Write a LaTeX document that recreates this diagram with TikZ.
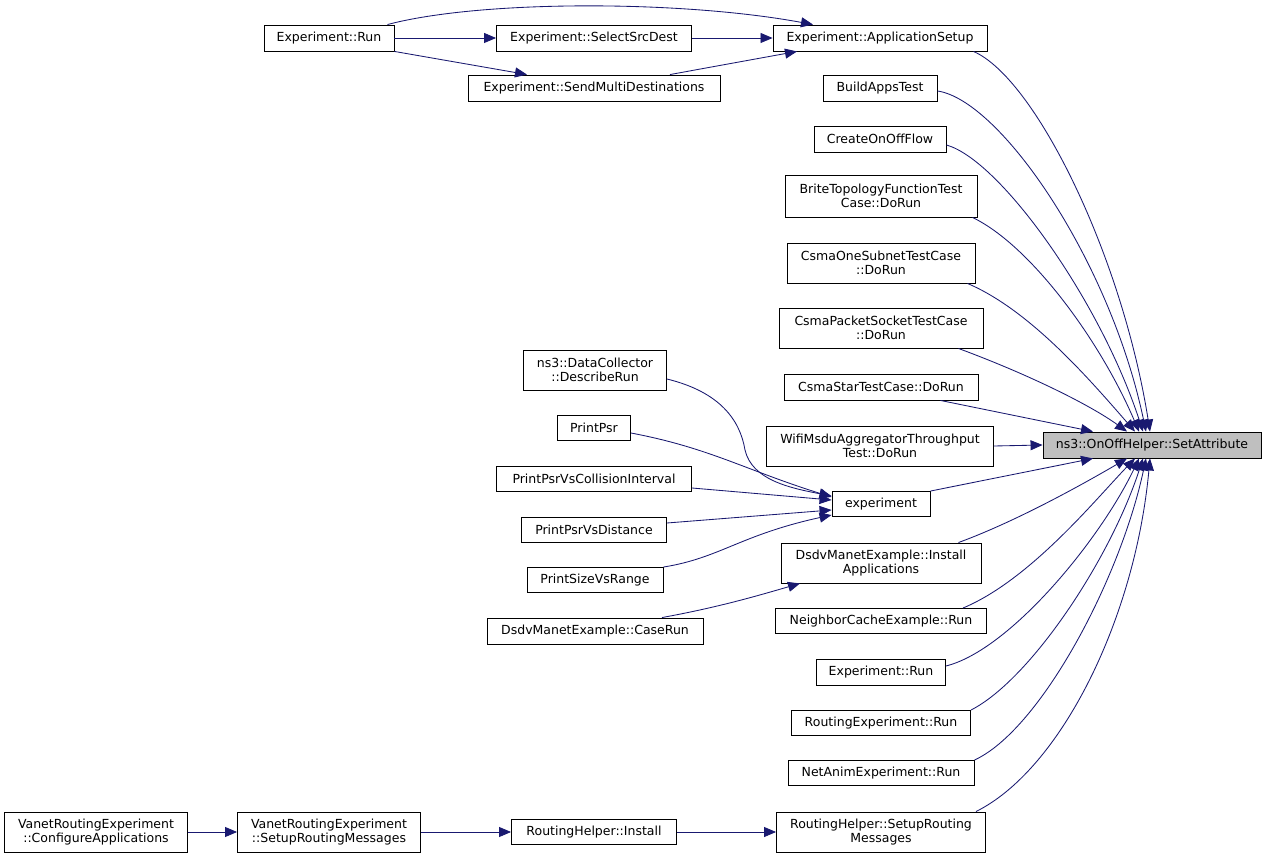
\documentclass[tikz,border=0pt]{standalone}
\usepackage{fontspec}
\setmainfont{DejaVu Sans}
\usetikzlibrary{arrows.meta}
\definecolor{edgeblue}{RGB}{25,25,112}

\begin{document}
\begin{tikzpicture}[
      fnbox/.style={draw=black, fill=white, line width=0.9pt, inner sep=0pt, align=center,
        font=\fontsize{12.5}{14.5}\selectfont},
      call/.style={-{Triangle[length=12pt, width=10pt]}, edgeblue, line width=0.85pt},
      x=1pt, y=-1pt
    ]
    \useasboundingbox (0,0) rectangle (1267,858);
    \node[fnbox, fill=black!25, minimum width=218, minimum height=26] (sa) at (1152,445) {ns3::OnOffHelper::SetAttribute};

    \node[fnbox, minimum width=130, minimum height=26] (runa) at (329,38) {Experiment::Run};
    \node[fnbox, minimum width=195, minimum height=26] (ssd) at (594,38) {Experiment::SelectSrcDest};
    \node[fnbox, minimum width=252, minimum height=26] (smd) at (594,88) {Experiment::SendMultiDestinations};
    \node[fnbox, minimum width=214, minimum height=26] (as) at (880,38) {Experiment::ApplicationSetup};
    \node[fnbox, minimum width=114, minimum height=26] (bat) at (880,88) {BuildAppsTest};
    \node[fnbox, minimum width=132, minimum height=26] (coof) at (880,139) {CreateOnOffFlow};
    \node[fnbox, minimum width=192, minimum height=42] (brite) at (881,196) {BriteTopologyFunctionTest\\Case::DoRun};
    \node[fnbox, minimum width=188, minimum height=40] (cos) at (881,263) {CsmaOneSubnetTestCase\\::DoRun};
    \node[fnbox, minimum width=204, minimum height=40] (cps) at (881,328) {CsmaPacketSocketTestCase\\::DoRun};
    \node[fnbox, minimum width=194, minimum height=26] (cst) at (881,387) {CsmaStarTestCase::DoRun};
    \node[fnbox, minimum width=227, minimum height=40] (wifi) at (880,446) {WifiMsduAggregatorThroughput\\Test::DoRun};
    \node[fnbox, minimum width=98, minimum height=25] (exp) at (881,504) {experiment};
    \node[fnbox, minimum width=200, minimum height=40] (di) at (881,563) {DsdvManetExample::Install\\Applications};
    \node[fnbox, minimum width=211, minimum height=25] (nce) at (881,621) {NeighborCacheExample::Run};
    \node[fnbox, minimum width=129, minimum height=26] (runb) at (881,672) {Experiment::Run};
    \node[fnbox, minimum width=179, minimum height=25] (rer) at (881,723) {RoutingExperiment::Run};
    \node[fnbox, minimum width=186, minimum height=25] (nae) at (881,773) {NetAnimExperiment::Run};
    \node[fnbox, minimum width=209, minimum height=40] (rsr) at (881,832) {RoutingHelper::SetupRouting\\Messages};

    \node[fnbox, minimum width=143, minimum height=40] (dc) at (595,370) {ns3::DataCollector\\::DescribeRun};
    \node[fnbox, minimum width=73, minimum height=25] (psr) at (594,428) {PrintPsr};
    \node[fnbox, minimum width=195, minimum height=25] (pci) at (594,479) {PrintPsrVsCollisionInterval};
    \node[fnbox, minimum width=145, minimum height=25] (pvd) at (594,530) {PrintPsrVsDistance};
    \node[fnbox, minimum width=136, minimum height=25] (psv) at (595,580) {PrintSizeVsRange};
    \node[fnbox, minimum width=216, minimum height=26] (cr) at (595,631) {DsdvManetExample::CaseRun};

    \node[fnbox, minimum width=165, minimum height=25] (rhi) at (594,832) {RoutingHelper::Install};
    \node[fnbox, minimum width=183, minimum height=40] (srm) at (329,832) {VanetRoutingExperiment\\::SetupRoutingMessages};
    \node[fnbox, minimum width=183, minimum height=40] (cfg) at (96,832) {VanetRoutingExperiment\\::ConfigureApplications};

    \draw[call] (runa.east) -- (ssd.west);
    \draw[call] (runa.south east) -- ([xshift=-67pt]smd.north);
    \draw[call] ([xshift=-7pt]runa.north east) .. controls (480,0) and (680,0) .. ([xshift=-67pt]as.north);
    \draw[call] (ssd.east) -- (as.west);
    \draw[call] ([xshift=76pt]smd.north) -- ([xshift=-83pt]as.south);

    \draw[call] ([xshift=-14pt]as.south east) .. controls (1035,78) and (1122,255) .. ([xshift=-2pt]sa.north);
    \draw[call] ([yshift=-3pt]bat.east) .. controls (1000,100) and (1110,260) .. ([xshift=-6pt]sa.north);
    \draw[call] ([yshift=-6pt]coof.east) .. controls (1000,160) and (1100,300) .. ([xshift=-9pt]sa.north);
    \draw[call] ([xshift=-5pt]brite.south east) .. controls (1030,245) and (1100,340) .. ([xshift=-13pt]sa.north);
    \draw[call] ([xshift=-8pt]cos.south east) .. controls (1030,310) and (1090,380) .. ([xshift=-17pt]sa.north);
    \draw[call] ([xshift=-25pt]cps.south east) .. controls (1030,375) and (1090,405) .. ([xshift=-25pt]sa.north);
    \draw[call] ([xshift=-38pt]cst.south east) -- ([xshift=-59pt]sa.north);
    \draw[call] (wifi.east) -- (sa.west);
    \draw[call] (exp.north east) -- ([xshift=-59pt]sa.south);
    \draw[call] ([xshift=-23pt]di.north east) .. controls (1020,520) and (1090,480) .. ([xshift=-25pt]sa.south);
    \draw[call] ([xshift=-24pt]nce.north east) .. controls (1030,580) and (1095,500) .. ([xshift=-17pt]sa.south);
    \draw[call] ([yshift=6pt]runb.east) .. controls (1010,650) and (1100,540) .. ([xshift=-13pt]sa.south);
    \draw[call] (rer.north east) .. controls (1030,680) and (1110,560) .. ([xshift=-9pt]sa.south);
    \draw[call] (nae.north east) .. controls (1040,730) and (1120,580) .. ([xshift=-6pt]sa.south);
    \draw[call] ([xshift=-10pt]rsr.north east) .. controls (1060,770) and (1135,620) .. ([xshift=-2pt]sa.south);

    \draw[call] ([yshift=-9pt]dc.east) .. controls (720,392) and (740,420) .. (745,450)
      .. controls (752,480) and (790,488) .. ([yshift=8pt]exp.west);
    \draw[call] ([yshift=-5pt]psr.east) .. controls (710,448) and (745,470) .. ([yshift=7pt]exp.west);
    \draw[call] ([yshift=-9pt]pci.east) -- ([yshift=4pt]exp.west);
    \draw[call] ([yshift=7pt]pvd.east) -- ([yshift=-6pt]exp.west);
    \draw[call] (psv.north east) .. controls (720,558) and (740,535) .. ([yshift=-11pt]exp.west);
    \draw[call] ([xshift=67pt]cr.north) .. controls (720,607) and (760,595) .. ([xshift=-81pt]di.south);

    \draw[call] (cfg.east) -- (srm.west);
    \draw[call] (srm.east) -- (rhi.west);
    \draw[call] (rhi.east) -- (rsr.west);
  \end{tikzpicture}
\end{document}
